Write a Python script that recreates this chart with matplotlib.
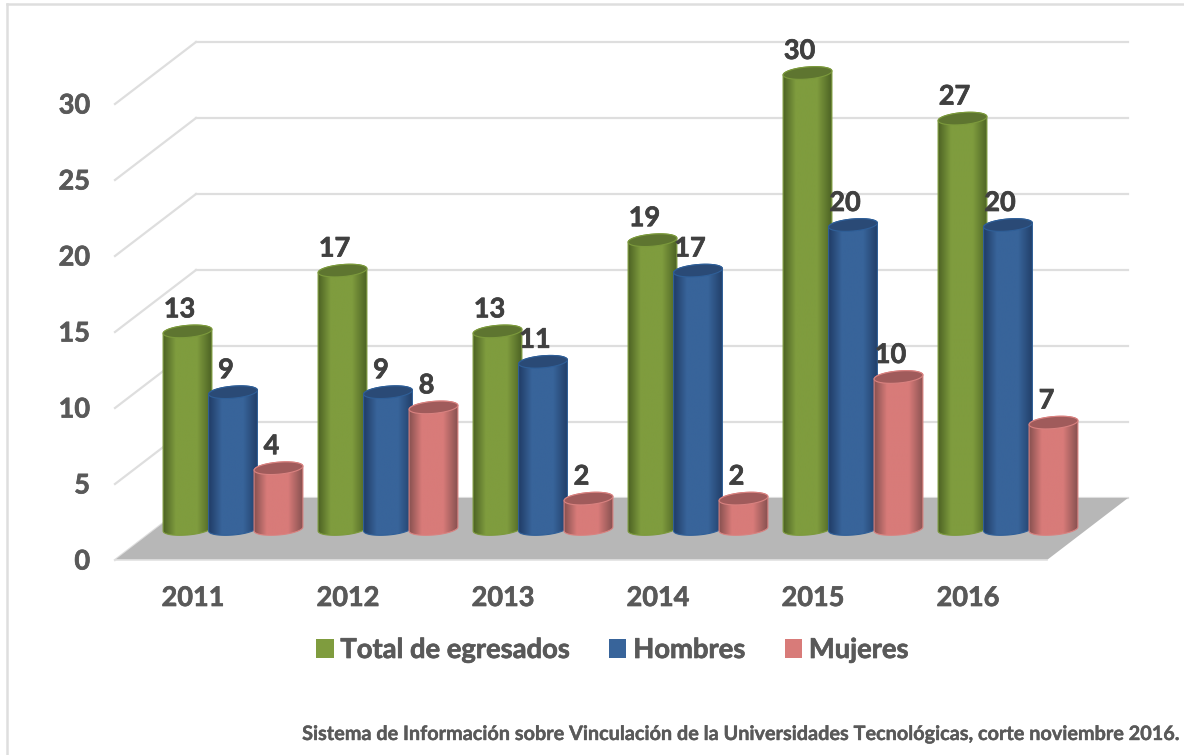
"""Cylinder-style bar chart of graduates per year, drawn on a plain 2D axes."""
import matplotlib
matplotlib.use("Agg")
import matplotlib.patheffects as pe
import matplotlib.pyplot as plt
import numpy as np
from matplotlib.patches import Patch, PathPatch, Polygon
from matplotlib.path import Path

years = ["2011", "2012", "2013", "2014", "2015", "2016"]
total = [13, 17, 13, 19, 30, 27]
hombres = [9, 9, 11, 17, 20, 20]
mujeres = [4, 8, 2, 2, 10, 7]
series_names = ["Total de egresados", "Hombres", "Mujeres"]
y_ticks = [0, 5, 10, 15, 20, 25, 30]
source = "Sistema de Información sobre Vinculación de la Universidades Tecnológicas, corte noviembre 2016."

# one x unit is a year group, one y unit is a graduate; these give the pixel size
W, H = 1184, 755
PX_X = 155.0
PX_Y = 15.2
ORIGIN_X = 233.0
ORIGIN_Y = 529.0

# (mid, edge, top, rim)
STYLES = [
    ("#7F9C3E", "#4C6224", "#5E7530", "#7C9A3C"),
    ("#38649A", "#213E68", "#2A4A76", "#2F5F98"),
    ("#D87B79", "#875150", "#A05B5B", "#D98280"),
]
GRID = "#DEDEDE"
FLOOR = "#B7B7B7"

plt.rcParams["font.family"] = ["Lato", "DejaVu Sans"]
plt.rcParams["font.weight"] = "bold"


def dx(px):
    return px / PX_X


def dy(px):
    return px / PX_Y


def heavy(text, color, width=0.5):
    # the reference type is heavier than Lato Bold
    text.set_path_effects([pe.withStroke(linewidth=width, foreground=color)])


def ellipse_arc(cx, cy, a, b, t0, t1, n=40, tilt=np.radians(5)):
    # arc in data coordinates, the shape itself is worked out in pixels
    t = np.linspace(t0, t1, n)
    ex = a * np.cos(t)
    ey = b * np.sin(t)
    xr = ex * np.cos(tilt) - ey * np.sin(tilt)
    yr = ex * np.sin(tilt) + ey * np.cos(tilt)
    return np.column_stack([cx + dx(xr), cy + dy(yr)])


def cylinder(ax, x, value, style, z):
    mid, edge, top, rim = style
    a, b = 24.5, 6.0
    upper = ellipse_arc(x, value, a, b, np.pi, 0)
    lower = ellipse_arc(x, 0, a, b, 0, -np.pi)
    outline = np.vstack([upper, lower, upper[:1]])
    clip = PathPatch(Path(outline), fc="none", ec="none", transform=ax.transData)
    ax.add_patch(clip)

    stops = [0, 0.26, 0.45, 0.70, 1]
    rgb = np.array([matplotlib.colors.to_rgb(c) for c in (edge, mid, mid, mid, edge)])
    u = np.linspace(0, 1, 120)
    grad = np.stack([np.interp(u, stops, rgb[:, i]) for i in range(3)], axis=-1)[None, :, :]
    im = ax.imshow(grad, extent=(x - dx(a), x + dx(a), 0 - dy(b), value + dy(b)),
                   aspect="auto", zorder=z, interpolation="bilinear")
    im.set_clip_path(clip)
    ax.add_patch(PathPatch(Path(outline), fc="none", ec=rim, lw=0.8, zorder=z + 0.1))
    ring = ellipse_arc(x, value, a, b, 0, 2 * np.pi)
    ax.add_patch(Polygon(ring, closed=True, fc=top, ec=rim, lw=0.8, zorder=z + 0.2))


fig = plt.figure(figsize=(W / 100, H / 100), dpi=100)
ax = fig.add_axes([0, 0, 1, 1])
ax.axis("off")

# walls and floor sit a fixed distance behind/in front of the bar bases
front_y, back_y = dy(-31), dy(31)
x_left, x_right = dx(115 - ORIGIN_X), dx(1047 - ORIGIN_X)
depth = dx(81)

for v in y_ticks:
    ax.plot([x_left, x_left + depth], [v + front_y, v + back_y], color=GRID, lw=1.6, zorder=1)
    ax.plot([x_left + depth, x_right + depth], [v + back_y, v + back_y], color=GRID, lw=1.6, zorder=1)
    t = ax.text(dx(90 - ORIGIN_X), v + front_y + dy(-1.5), str(v), ha="right", va="center",
                fontsize=19.5, color="#595959", zorder=6)
    heavy(t, "#595959")

ax.add_patch(Polygon([(x_left, front_y), (x_right, front_y),
                      (x_right + depth, back_y), (x_left + depth, back_y)],
                     closed=True, fc=FLOOR, ec="none", zorder=2))
ax.plot([x_left, x_right], [front_y, front_y], color="#E2E2E2", lw=1.2, zorder=2)

all_series = [total, hombres, mujeres]
offsets = [-45.5, 0, 45.5]
for i, year in enumerate(years):
    for j, vals in enumerate(all_series):
        x = i + dx(offsets[j])
        cylinder(ax, x, vals[i], STYLES[j], 3 + 0.5 * j)
        lab_dx = -7 if len(str(vals[i])) == 1 else -8
        t = ax.annotate(str(vals[i]), (x, vals[i]), xytext=(lab_dx, 22), textcoords="offset pixels",
                        ha="center", va="center", fontsize=19.5, color="#404040", zorder=7)
        heavy(t, "#404040")
    t = ax.text(i + dx(-40), dy(529 - 598), year, ha="center", va="center",
                fontsize=19.5, color="#595959", zorder=6)
    heavy(t, "#595959")

handles = [Patch(fc=s[0], ec="none") for s in STYLES]
leg = ax.legend(handles, series_names, ncol=3, frameon=False, fontsize=19.7,
                loc="center", bbox_to_anchor=(612.5 / W, 1 - 650 / H),
                handlelength=0.63, handleheight=0.66, handletextpad=0.25, columnspacing=1.45,
                labelcolor="#595959")
for t in leg.get_texts():
    heavy(t, "#595959")

t = ax.text(dx(1181 - ORIGIN_X), dy(529 - 734), source, ha="right", va="center",
            fontsize=14.3, color="#595959", zorder=6)
heavy(t, "#595959", 0.3)

# outer frame, cropped on the right and bottom
ax.plot([dx(7 - ORIGIN_X), dx(7 - ORIGIN_X)], [dy(529 - 755), dy(529 - 4)], color=GRID, lw=1.8, zorder=1)
ax.plot([dx(7 - ORIGIN_X), dx(1184 - ORIGIN_X)], [dy(529 - 4), dy(529 - 4)], color=GRID, lw=1.8, zorder=1)

ax.set_xlim(-ORIGIN_X / PX_X, (W - ORIGIN_X) / PX_X)
ax.set_ylim((ORIGIN_Y - H) / PX_Y, ORIGIN_Y / PX_Y)

fig.savefig("out.png", dpi=100)
